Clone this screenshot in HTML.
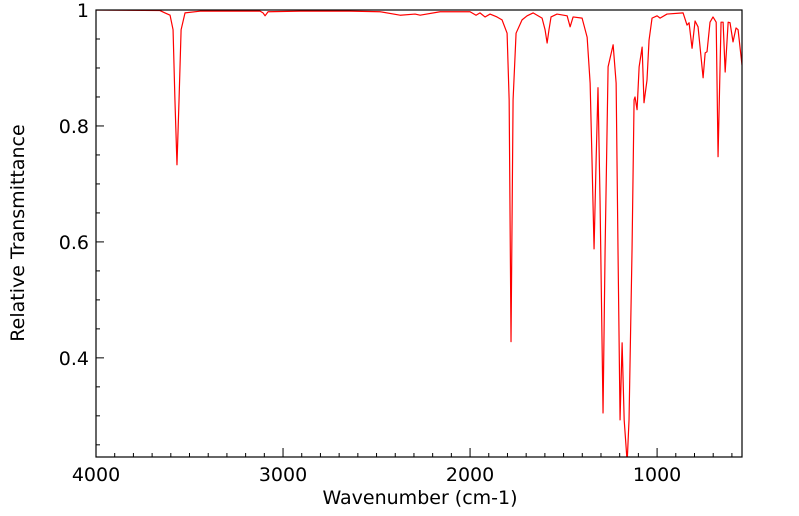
<!DOCTYPE html>
<html><head><meta charset="utf-8"><style>
html,body{margin:0;padding:0;background:#fff;width:799px;height:516px;overflow:hidden}
svg{display:block;font-family:"DejaVu Sans","Liberation Sans",sans-serif}
</style></head><body>
<svg id="chart" width="799" height="516">
<defs><clipPath id="clip"><rect x="96" y="10" width="646" height="447"/></clipPath></defs>
<g id="axes"></g>
<path id="spectrum" fill="none" stroke="#ff0000" stroke-width="1.2" stroke-linejoin="round" clip-path="url(#clip)"/>
<rect x="96" y="10" width="646" height="447" fill="none" stroke="#000" stroke-width="1.2"/>
<text x="420" y="504" font-size="19" text-anchor="middle">Wavenumber (cm-1)</text>
<text transform="translate(24,233) rotate(-90)" font-size="19" text-anchor="middle">Relative Transmittance</text>
</svg>
<script>
const wavenumbers=[4000,3658,3631,3604,3588,3578,3567,3556,3545,3524,3444,3123,3107,3096,3080,2909,2642,2481,2374,2294,2267,2160,2000,1968,1947,1920,1893,1856,1829,1802,1791,1781,1770,1754,1722,1695,1663,1615,1599,1588,1578,1567,1535,1481,1465,1449,1401,1374,1358,1348,1337,1326,1316,1305,1289,1278,1262,1235,1219,1209,1198,1187,1176,1160,1150,1134,1123,1118,1107,1096,1080,1070,1054,1043,1027,1000,984,947,861,840,829,813,797,781,754,743,733,717,701,684,674,658,647,636,620,610,594,578,567,546];
const transmittance=[1.0,0.999,0.995,0.991,0.966,0.845,0.733,0.845,0.966,0.995,0.998,0.998,0.995,0.99,0.997,0.998,0.998,0.997,0.991,0.993,0.991,0.997,0.997,0.991,0.995,0.988,0.993,0.988,0.983,0.96,0.845,0.428,0.845,0.96,0.983,0.99,0.995,0.986,0.966,0.943,0.966,0.988,0.993,0.99,0.971,0.988,0.986,0.953,0.874,0.741,0.588,0.741,0.866,0.672,0.305,0.586,0.902,0.94,0.874,0.586,0.293,0.426,0.293,0.22,0.293,0.586,0.845,0.85,0.828,0.902,0.936,0.84,0.879,0.948,0.986,0.99,0.986,0.993,0.995,0.974,0.978,0.934,0.981,0.971,0.883,0.926,0.928,0.979,0.988,0.979,0.747,0.979,0.979,0.893,0.979,0.978,0.945,0.969,0.966,0.905];
const xTicks=[4000,3000,2000,1000];
const yTicks=[0.4,0.6,0.8,1];
const X0=96,X1=742,Y0=10,Y1=457,WMAX=4000,WMIN=546,TMIN=0.229,TMAX=1;
function xs(w){return X0+(WMAX-w)/(WMAX-WMIN)*(X1-X0);}
function ys(t){return Y0+(TMAX-t)/(TMAX-TMIN)*(Y1-Y0);}
const NS="http://www.w3.org/2000/svg";
const axes=document.getElementById('axes');
function line(x1,y1,x2,y2,name){const l=document.createElementNS(NS,'line');
l.setAttribute('x1',x1);l.setAttribute('y1',y1);l.setAttribute('x2',x2);l.setAttribute('y2',y2);
l.setAttribute('stroke','#000');l.setAttribute('stroke-width','1');


axes.appendChild(l);}
function text(x,y,s,anchor,name){const t=document.createElementNS(NS,'text');
t.setAttribute('x',x);t.setAttribute('y',y);t.setAttribute('font-size','19');t.setAttribute('text-anchor',anchor);t.textContent=s;


axes.appendChild(t);}
for(let w=4000;w>=WMIN;w-=100){const x=xs(w);const major=w%1000===0;line(x,Y1,x,Y1-(major?9:4),major?'x-major-tick':'x-minor-tick');}
xTicks.forEach(w=>text(xs(w),481,String(w),'middle','x-tick-label'));
for(let k=0;k<=20;k++){const t=1-k*0.05;if(t<TMIN)break;const y=ys(t);const major=Math.abs((t*10)%2)<0.01||Math.abs((t*10)%2-2)<0.01;line(X0,y,X0+(major?8:4),y,major?'y-major-tick':'y-minor-tick');}
yTicks.forEach(t=>text(89,ys(t)+7,t===1?'1':String(t),'end','y-tick-label'));
let d='';
for(let i=0;i<wavenumbers.length;i++){d+=(i?'L':'M')+xs(wavenumbers[i]).toFixed(2)+','+ys(transmittance[i]).toFixed(2);}
document.getElementById('spectrum').setAttribute('d',d);
</script>
</body></html>
